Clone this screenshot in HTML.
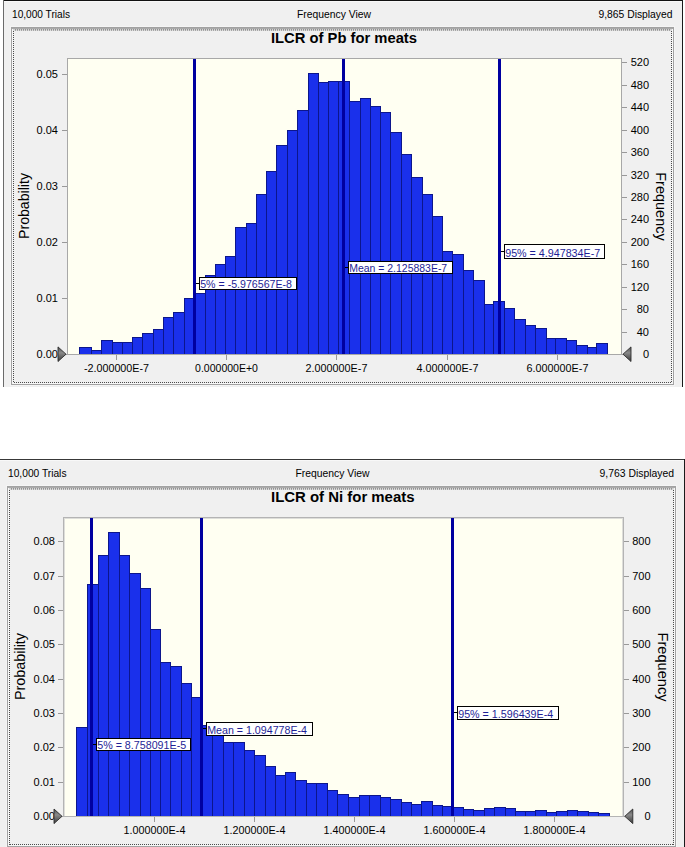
<!DOCTYPE html><html><head><meta charset="utf-8"><style>html,body{margin:0;padding:0;background:#fff;}svg{display:block;}text{font-family:"Liberation Sans",sans-serif;}</style></head><body>
<svg width="685" height="847" viewBox="0 0 685 847" shape-rendering="crispEdges">
<defs><linearGradient id="tg" x1="0" y1="0" x2="0" y2="1"><stop offset="0" stop-color="#505050"/><stop offset="0.4" stop-color="#8a8a8a"/><stop offset="1" stop-color="#383838"/></linearGradient></defs>
<rect x="0" y="0" width="685" height="847" fill="#fff"/>
<rect x="3" y="0" width="680" height="387" fill="#f0f0f0"/>
<rect x="3" y="0" width="680" height="1" fill="#111"/>
<rect x="3" y="1" width="679" height="1" fill="#f8f8f8"/>
<rect x="3" y="0" width="1" height="387" fill="#6a6a6a"/>
<rect x="682" y="0" width="1" height="387" fill="#1a1a1a"/>
<rect x="10" y="26" width="665" height="360" fill="#f5f5f5"/>
<rect x="11" y="27" width="663" height="358" fill="#a2a2a2"/>
<rect x="12" y="28" width="661" height="356" fill="#f8f8f8"/>
<rect x="13" y="29" width="659" height="354" fill="#f0f0f0"/>
<rect x="12" y="28" width="661" height="1" fill="#aaaaaa"/>
<rect x="13" y="29" width="659" height="1" fill="#d2d2d2"/>
<rect x="13" y="30" width="659" height="1" fill="#dedede"/>
<line x1="15" y1="29.5" x2="671" y2="29.5" stroke="#929292" stroke-width="1" stroke-dasharray="1 1"/>
<line x1="15" y1="30.5" x2="671" y2="30.5" stroke="#a6a6a6" stroke-width="1" stroke-dasharray="1 1"/>
<line x1="14" y1="382.5" x2="671" y2="382.5" stroke="#4a4a4a" stroke-width="1" stroke-dasharray="1 1"/>
<line x1="13.5" y1="31" x2="13.5" y2="383" stroke="#4a4a4a" stroke-width="1" stroke-dasharray="1 1"/>
<line x1="671.5" y1="31" x2="671.5" y2="383" stroke="#4a4a4a" stroke-width="1" stroke-dasharray="1 1"/>
<text x="12" y="18.2" font-size="11" textLength="58" lengthAdjust="spacingAndGlyphs" fill="#000">10,000 Trials</text>
<text x="297" y="18.2" font-size="11" textLength="74" lengthAdjust="spacingAndGlyphs" fill="#000">Frequency View</text>
<text x="598.5" y="18.2" font-size="11" textLength="74" lengthAdjust="spacingAndGlyphs" fill="#000">9,865 Displayed</text>
<text x="271" y="43" font-size="14" font-weight="bold" textLength="146" lengthAdjust="spacingAndGlyphs" fill="#000">ILCR of Pb for meats</text>
<rect x="67" y="58" width="555" height="297" fill="#a8a8a8"/>
<rect x="68" y="59" width="553" height="295" fill="#fffff2"/>
<rect x="79" y="347" width="13" height="7" fill="#0c168c"/>
<rect x="80" y="348" width="11" height="6" fill="#1a30eb"/>
<rect x="91" y="350" width="11" height="4" fill="#0c168c"/>
<rect x="92" y="351" width="9" height="3" fill="#1a30eb"/>
<rect x="101" y="340" width="12" height="14" fill="#0c168c"/>
<rect x="102" y="341" width="10" height="13" fill="#1a30eb"/>
<rect x="112" y="342" width="11" height="12" fill="#0c168c"/>
<rect x="113" y="343" width="9" height="11" fill="#1a30eb"/>
<rect x="122" y="342" width="11" height="12" fill="#0c168c"/>
<rect x="123" y="343" width="9" height="11" fill="#1a30eb"/>
<rect x="132" y="337" width="11" height="17" fill="#0c168c"/>
<rect x="133" y="338" width="9" height="16" fill="#1a30eb"/>
<rect x="142" y="333" width="12" height="21" fill="#0c168c"/>
<rect x="143" y="334" width="10" height="20" fill="#1a30eb"/>
<rect x="153" y="329" width="11" height="25" fill="#0c168c"/>
<rect x="154" y="330" width="9" height="24" fill="#1a30eb"/>
<rect x="163" y="317" width="11" height="37" fill="#0c168c"/>
<rect x="164" y="318" width="9" height="36" fill="#1a30eb"/>
<rect x="173" y="312" width="12" height="42" fill="#0c168c"/>
<rect x="174" y="313" width="10" height="41" fill="#1a30eb"/>
<rect x="184" y="298" width="11" height="56" fill="#0c168c"/>
<rect x="185" y="299" width="9" height="55" fill="#1a30eb"/>
<rect x="194" y="293" width="12" height="61" fill="#0c168c"/>
<rect x="195" y="294" width="10" height="60" fill="#1a30eb"/>
<rect x="205" y="275" width="11" height="79" fill="#0c168c"/>
<rect x="206" y="276" width="9" height="78" fill="#1a30eb"/>
<rect x="215" y="264" width="11" height="90" fill="#0c168c"/>
<rect x="216" y="265" width="9" height="89" fill="#1a30eb"/>
<rect x="225" y="256" width="11" height="98" fill="#0c168c"/>
<rect x="226" y="257" width="9" height="97" fill="#1a30eb"/>
<rect x="235" y="227" width="12" height="127" fill="#0c168c"/>
<rect x="236" y="228" width="10" height="126" fill="#1a30eb"/>
<rect x="246" y="223" width="11" height="131" fill="#0c168c"/>
<rect x="247" y="224" width="9" height="130" fill="#1a30eb"/>
<rect x="256" y="194" width="11" height="160" fill="#0c168c"/>
<rect x="257" y="195" width="9" height="159" fill="#1a30eb"/>
<rect x="266" y="171" width="11" height="183" fill="#0c168c"/>
<rect x="267" y="172" width="9" height="182" fill="#1a30eb"/>
<rect x="276" y="145" width="12" height="209" fill="#0c168c"/>
<rect x="277" y="146" width="10" height="208" fill="#1a30eb"/>
<rect x="287" y="130" width="11" height="224" fill="#0c168c"/>
<rect x="288" y="131" width="9" height="223" fill="#1a30eb"/>
<rect x="297" y="110" width="12" height="244" fill="#0c168c"/>
<rect x="298" y="111" width="10" height="243" fill="#1a30eb"/>
<rect x="308" y="73" width="11" height="281" fill="#0c168c"/>
<rect x="309" y="74" width="9" height="280" fill="#1a30eb"/>
<rect x="318" y="82" width="11" height="272" fill="#0c168c"/>
<rect x="319" y="83" width="9" height="271" fill="#1a30eb"/>
<rect x="328" y="81" width="11" height="273" fill="#0c168c"/>
<rect x="329" y="82" width="9" height="272" fill="#1a30eb"/>
<rect x="338" y="81" width="12" height="273" fill="#0c168c"/>
<rect x="339" y="82" width="10" height="272" fill="#1a30eb"/>
<rect x="349" y="101" width="12" height="253" fill="#0c168c"/>
<rect x="350" y="102" width="10" height="252" fill="#1a30eb"/>
<rect x="360" y="98" width="11" height="256" fill="#0c168c"/>
<rect x="361" y="99" width="9" height="255" fill="#1a30eb"/>
<rect x="370" y="106" width="11" height="248" fill="#0c168c"/>
<rect x="371" y="107" width="9" height="247" fill="#1a30eb"/>
<rect x="380" y="112" width="11" height="242" fill="#0c168c"/>
<rect x="381" y="113" width="9" height="241" fill="#1a30eb"/>
<rect x="390" y="132" width="12" height="222" fill="#0c168c"/>
<rect x="391" y="133" width="10" height="221" fill="#1a30eb"/>
<rect x="401" y="154" width="11" height="200" fill="#0c168c"/>
<rect x="402" y="155" width="9" height="199" fill="#1a30eb"/>
<rect x="411" y="177" width="12" height="177" fill="#0c168c"/>
<rect x="412" y="178" width="10" height="176" fill="#1a30eb"/>
<rect x="422" y="194" width="11" height="160" fill="#0c168c"/>
<rect x="423" y="195" width="9" height="159" fill="#1a30eb"/>
<rect x="432" y="216" width="11" height="138" fill="#0c168c"/>
<rect x="433" y="217" width="9" height="137" fill="#1a30eb"/>
<rect x="442" y="251" width="11" height="103" fill="#0c168c"/>
<rect x="443" y="252" width="9" height="102" fill="#1a30eb"/>
<rect x="452" y="254" width="12" height="100" fill="#0c168c"/>
<rect x="453" y="255" width="10" height="99" fill="#1a30eb"/>
<rect x="463" y="270" width="11" height="84" fill="#0c168c"/>
<rect x="464" y="271" width="9" height="83" fill="#1a30eb"/>
<rect x="473" y="280" width="12" height="74" fill="#0c168c"/>
<rect x="474" y="281" width="10" height="73" fill="#1a30eb"/>
<rect x="484" y="304" width="10" height="50" fill="#0c168c"/>
<rect x="485" y="305" width="8" height="49" fill="#1a30eb"/>
<rect x="493" y="301" width="12" height="53" fill="#0c168c"/>
<rect x="494" y="302" width="10" height="52" fill="#1a30eb"/>
<rect x="504" y="308" width="11" height="46" fill="#0c168c"/>
<rect x="505" y="309" width="9" height="45" fill="#1a30eb"/>
<rect x="514" y="319" width="12" height="35" fill="#0c168c"/>
<rect x="515" y="320" width="10" height="34" fill="#1a30eb"/>
<rect x="525" y="325" width="11" height="29" fill="#0c168c"/>
<rect x="526" y="326" width="9" height="28" fill="#1a30eb"/>
<rect x="535" y="328" width="12" height="26" fill="#0c168c"/>
<rect x="536" y="329" width="10" height="25" fill="#1a30eb"/>
<rect x="546" y="338" width="10" height="16" fill="#0c168c"/>
<rect x="547" y="339" width="8" height="15" fill="#1a30eb"/>
<rect x="555" y="338" width="12" height="16" fill="#0c168c"/>
<rect x="556" y="339" width="10" height="15" fill="#1a30eb"/>
<rect x="566" y="340" width="11" height="14" fill="#0c168c"/>
<rect x="567" y="341" width="9" height="13" fill="#1a30eb"/>
<rect x="576" y="345" width="12" height="9" fill="#0c168c"/>
<rect x="577" y="346" width="10" height="8" fill="#1a30eb"/>
<rect x="587" y="347" width="10" height="7" fill="#0c168c"/>
<rect x="588" y="348" width="8" height="6" fill="#1a30eb"/>
<rect x="596" y="343" width="12" height="11" fill="#0c168c"/>
<rect x="597" y="344" width="10" height="10" fill="#1a30eb"/>
<rect x="193" y="59" width="3" height="295" fill="#0000a0"/>
<rect x="342" y="59" width="3" height="295" fill="#0000a0"/>
<rect x="498" y="59" width="3" height="295" fill="#0000a0"/>
<rect x="196" y="283" width="3" height="1" fill="#000"/>
<rect x="199" y="277" width="98" height="13" fill="#000"/>
<rect x="200" y="278" width="96" height="11" fill="#fff"/>
<text x="200.2" y="287.5" font-size="11" textLength="91.8" lengthAdjust="spacingAndGlyphs" fill="#1e1e96">5% = -5.976567E-8</text>
<rect x="345" y="267" width="3" height="1" fill="#000"/>
<rect x="348" y="261" width="105" height="13" fill="#000"/>
<rect x="349" y="262" width="103" height="11" fill="#fff"/>
<text x="349.2" y="271.5" font-size="11" textLength="98" lengthAdjust="spacingAndGlyphs" fill="#1e1e96">Mean = 2.125883E-7</text>
<rect x="501" y="251" width="3" height="1" fill="#000"/>
<rect x="504" y="244" width="101" height="15" fill="#000"/>
<rect x="505" y="245" width="99" height="13" fill="#fff"/>
<text x="505.2" y="256.5" font-size="11" textLength="95" lengthAdjust="spacingAndGlyphs" fill="#1e1e96">95% = 4.947834E-7</text>
<rect x="62" y="354" width="5" height="1" fill="#999"/>
<text x="58" y="358" font-size="11" text-anchor="end" fill="#000">0.00</text>
<rect x="62" y="298" width="5" height="1" fill="#999"/>
<text x="58" y="302" font-size="11" text-anchor="end" fill="#000">0.01</text>
<rect x="62" y="242" width="5" height="1" fill="#999"/>
<text x="58" y="246" font-size="11" text-anchor="end" fill="#000">0.02</text>
<rect x="62" y="186" width="5" height="1" fill="#999"/>
<text x="58" y="190" font-size="11" text-anchor="end" fill="#000">0.03</text>
<rect x="62" y="130" width="5" height="1" fill="#999"/>
<text x="58" y="134" font-size="11" text-anchor="end" fill="#000">0.04</text>
<rect x="62" y="74" width="5" height="1" fill="#999"/>
<text x="58" y="78" font-size="11" text-anchor="end" fill="#000">0.05</text>
<rect x="622" y="354" width="5" height="1" fill="#999"/>
<text x="649" y="358" font-size="11" text-anchor="end" fill="#000">0</text>
<rect x="622" y="332" width="5" height="1" fill="#999"/>
<text x="649" y="336" font-size="11" text-anchor="end" fill="#000">40</text>
<rect x="622" y="309" width="5" height="1" fill="#999"/>
<text x="649" y="313" font-size="11" text-anchor="end" fill="#000">80</text>
<rect x="622" y="287" width="5" height="1" fill="#999"/>
<text x="649" y="291" font-size="11" text-anchor="end" fill="#000">120</text>
<rect x="622" y="264" width="5" height="1" fill="#999"/>
<text x="649" y="268" font-size="11" text-anchor="end" fill="#000">160</text>
<rect x="622" y="242" width="5" height="1" fill="#999"/>
<text x="649" y="246" font-size="11" text-anchor="end" fill="#000">200</text>
<rect x="622" y="219" width="5" height="1" fill="#999"/>
<text x="649" y="223" font-size="11" text-anchor="end" fill="#000">240</text>
<rect x="622" y="197" width="5" height="1" fill="#999"/>
<text x="649" y="201" font-size="11" text-anchor="end" fill="#000">280</text>
<rect x="622" y="175" width="5" height="1" fill="#999"/>
<text x="649" y="179" font-size="11" text-anchor="end" fill="#000">320</text>
<rect x="622" y="152" width="5" height="1" fill="#999"/>
<text x="649" y="156" font-size="11" text-anchor="end" fill="#000">360</text>
<rect x="622" y="130" width="5" height="1" fill="#999"/>
<text x="649" y="134" font-size="11" text-anchor="end" fill="#000">400</text>
<rect x="622" y="107" width="5" height="1" fill="#999"/>
<text x="649" y="111" font-size="11" text-anchor="end" fill="#000">440</text>
<rect x="622" y="85" width="5" height="1" fill="#999"/>
<text x="649" y="89" font-size="11" text-anchor="end" fill="#000">480</text>
<rect x="622" y="62" width="5" height="1" fill="#999"/>
<text x="649" y="66" font-size="11" text-anchor="end" fill="#000">520</text>
<rect x="116" y="355" width="1" height="5" fill="#999"/>
<text x="116.5" y="372" font-size="11" text-anchor="middle" textLength="65.2" lengthAdjust="spacingAndGlyphs" fill="#000">-2.000000E-7</text>
<rect x="226" y="355" width="1" height="5" fill="#999"/>
<text x="226.5" y="372" font-size="11" text-anchor="middle" textLength="62.8" lengthAdjust="spacingAndGlyphs" fill="#000">0.000000E+0</text>
<rect x="336" y="355" width="1" height="5" fill="#999"/>
<text x="336.5" y="372" font-size="11" text-anchor="middle" textLength="61.8" lengthAdjust="spacingAndGlyphs" fill="#000">2.000000E-7</text>
<rect x="447" y="355" width="1" height="5" fill="#999"/>
<text x="447.5" y="372" font-size="11" text-anchor="middle" textLength="61.8" lengthAdjust="spacingAndGlyphs" fill="#000">4.000000E-7</text>
<rect x="557" y="355" width="1" height="5" fill="#999"/>
<text x="557.5" y="372" font-size="11" text-anchor="middle" textLength="61.8" lengthAdjust="spacingAndGlyphs" fill="#000">6.000000E-7</text>
<text transform="translate(29,206) rotate(-90)" x="0" y="0" font-size="14" text-anchor="middle" textLength="66" lengthAdjust="spacingAndGlyphs" fill="#000">Probability</text>
<text transform="translate(656,206.5) rotate(90)" x="0" y="0" font-size="14" text-anchor="middle" textLength="68.5" lengthAdjust="spacingAndGlyphs" fill="#000">Frequency</text>
<polygon points="58,346.9 58,361.5 66,354.2" fill="url(#tg)" stroke="#2c2c2c" stroke-width="0.9" stroke-linejoin="round" shape-rendering="geometricPrecision"/>
<polygon points="631,346.9 631,361.5 623,354.2" fill="url(#tg)" stroke="#2c2c2c" stroke-width="0.9" stroke-linejoin="round" shape-rendering="geometricPrecision"/>
<rect x="-1" y="459" width="686" height="388" fill="#f0f0f0"/>
<rect x="-1" y="459" width="686" height="1" fill="#383838"/>
<rect x="-1" y="460" width="685" height="1" fill="#f8f8f8"/>
<rect x="684" y="459" width="1" height="388" fill="#1a1a1a"/>
<rect x="6" y="485" width="671" height="363" fill="#f5f5f5"/>
<rect x="7" y="486" width="669" height="361" fill="#a2a2a2"/>
<rect x="8" y="487" width="667" height="359" fill="#f8f8f8"/>
<rect x="9" y="488" width="665" height="357" fill="#f0f0f0"/>
<rect x="8" y="487" width="667" height="1" fill="#aaaaaa"/>
<rect x="9" y="488" width="665" height="1" fill="#d2d2d2"/>
<rect x="9" y="489" width="665" height="1" fill="#dedede"/>
<line x1="11" y1="488.5" x2="673" y2="488.5" stroke="#929292" stroke-width="1" stroke-dasharray="1 1"/>
<line x1="11" y1="489.5" x2="673" y2="489.5" stroke="#a6a6a6" stroke-width="1" stroke-dasharray="1 1"/>
<line x1="10" y1="844.5" x2="673" y2="844.5" stroke="#4a4a4a" stroke-width="1" stroke-dasharray="1 1"/>
<line x1="9.5" y1="490" x2="9.5" y2="845" stroke="#4a4a4a" stroke-width="1" stroke-dasharray="1 1"/>
<line x1="673.5" y1="490" x2="673.5" y2="845" stroke="#4a4a4a" stroke-width="1" stroke-dasharray="1 1"/>
<text x="8" y="477.2" font-size="11" textLength="58.5" lengthAdjust="spacingAndGlyphs" fill="#000">10,000 Trials</text>
<text x="295.5" y="477.2" font-size="11" textLength="74" lengthAdjust="spacingAndGlyphs" fill="#000">Frequency View</text>
<text x="599.5" y="477" font-size="11" textLength="74.5" lengthAdjust="spacingAndGlyphs" fill="#000">9,763 Displayed</text>
<text x="271" y="502" font-size="14" font-weight="bold" textLength="143.5" lengthAdjust="spacingAndGlyphs" fill="#000">ILCR of Ni for meats</text>
<rect x="63" y="517" width="561" height="300" fill="#b4b4b4"/>
<rect x="64" y="518" width="559" height="298" fill="#fffff2"/>
<rect x="64" y="518" width="1" height="298" fill="#dededa"/>
<rect x="64" y="518" width="559" height="1" fill="#dededa"/>
<rect x="622" y="518" width="1" height="298" fill="#dededa"/>
<rect x="76" y="727" width="12" height="89" fill="#0c168c"/>
<rect x="77" y="728" width="10" height="88" fill="#1a30eb"/>
<rect x="87" y="584" width="12" height="232" fill="#0c168c"/>
<rect x="88" y="585" width="10" height="231" fill="#1a30eb"/>
<rect x="98" y="555" width="11" height="261" fill="#0c168c"/>
<rect x="99" y="556" width="9" height="260" fill="#1a30eb"/>
<rect x="108" y="532" width="12" height="284" fill="#0c168c"/>
<rect x="109" y="533" width="10" height="283" fill="#1a30eb"/>
<rect x="119" y="555" width="11" height="261" fill="#0c168c"/>
<rect x="120" y="556" width="9" height="260" fill="#1a30eb"/>
<rect x="129" y="573" width="12" height="243" fill="#0c168c"/>
<rect x="130" y="574" width="10" height="242" fill="#1a30eb"/>
<rect x="140" y="588" width="11" height="228" fill="#0c168c"/>
<rect x="141" y="589" width="9" height="227" fill="#1a30eb"/>
<rect x="150" y="629" width="11" height="187" fill="#0c168c"/>
<rect x="151" y="630" width="9" height="186" fill="#1a30eb"/>
<rect x="160" y="662" width="11" height="154" fill="#0c168c"/>
<rect x="161" y="663" width="9" height="153" fill="#1a30eb"/>
<rect x="170" y="666" width="12" height="150" fill="#0c168c"/>
<rect x="171" y="667" width="10" height="149" fill="#1a30eb"/>
<rect x="181" y="683" width="11" height="133" fill="#0c168c"/>
<rect x="182" y="684" width="9" height="132" fill="#1a30eb"/>
<rect x="191" y="697" width="11" height="119" fill="#0c168c"/>
<rect x="192" y="698" width="9" height="118" fill="#1a30eb"/>
<rect x="201" y="725" width="12" height="91" fill="#0c168c"/>
<rect x="202" y="726" width="10" height="90" fill="#1a30eb"/>
<rect x="212" y="735" width="12" height="81" fill="#0c168c"/>
<rect x="213" y="736" width="10" height="80" fill="#1a30eb"/>
<rect x="223" y="742" width="11" height="74" fill="#0c168c"/>
<rect x="224" y="743" width="9" height="73" fill="#1a30eb"/>
<rect x="233" y="742" width="12" height="74" fill="#0c168c"/>
<rect x="234" y="743" width="10" height="73" fill="#1a30eb"/>
<rect x="244" y="750" width="11" height="66" fill="#0c168c"/>
<rect x="245" y="751" width="9" height="65" fill="#1a30eb"/>
<rect x="254" y="755" width="12" height="61" fill="#0c168c"/>
<rect x="255" y="756" width="10" height="60" fill="#1a30eb"/>
<rect x="265" y="766" width="11" height="50" fill="#0c168c"/>
<rect x="266" y="767" width="9" height="49" fill="#1a30eb"/>
<rect x="275" y="775" width="11" height="41" fill="#0c168c"/>
<rect x="276" y="776" width="9" height="40" fill="#1a30eb"/>
<rect x="285" y="772" width="11" height="44" fill="#0c168c"/>
<rect x="286" y="773" width="9" height="43" fill="#1a30eb"/>
<rect x="295" y="780" width="12" height="36" fill="#0c168c"/>
<rect x="296" y="781" width="10" height="35" fill="#1a30eb"/>
<rect x="306" y="783" width="11" height="33" fill="#0c168c"/>
<rect x="307" y="784" width="9" height="32" fill="#1a30eb"/>
<rect x="316" y="783" width="12" height="33" fill="#0c168c"/>
<rect x="317" y="784" width="10" height="32" fill="#1a30eb"/>
<rect x="327" y="790" width="11" height="26" fill="#0c168c"/>
<rect x="328" y="791" width="9" height="25" fill="#1a30eb"/>
<rect x="337" y="794" width="12" height="22" fill="#0c168c"/>
<rect x="338" y="795" width="10" height="21" fill="#1a30eb"/>
<rect x="348" y="797" width="12" height="19" fill="#0c168c"/>
<rect x="349" y="798" width="10" height="18" fill="#1a30eb"/>
<rect x="359" y="795" width="11" height="21" fill="#0c168c"/>
<rect x="360" y="796" width="9" height="20" fill="#1a30eb"/>
<rect x="369" y="795" width="12" height="21" fill="#0c168c"/>
<rect x="370" y="796" width="10" height="20" fill="#1a30eb"/>
<rect x="380" y="797" width="11" height="19" fill="#0c168c"/>
<rect x="381" y="798" width="9" height="18" fill="#1a30eb"/>
<rect x="390" y="799" width="12" height="17" fill="#0c168c"/>
<rect x="391" y="800" width="10" height="16" fill="#1a30eb"/>
<rect x="401" y="802" width="11" height="14" fill="#0c168c"/>
<rect x="402" y="803" width="9" height="13" fill="#1a30eb"/>
<rect x="411" y="804" width="11" height="12" fill="#0c168c"/>
<rect x="412" y="805" width="9" height="11" fill="#1a30eb"/>
<rect x="421" y="801" width="12" height="15" fill="#0c168c"/>
<rect x="422" y="802" width="10" height="14" fill="#1a30eb"/>
<rect x="432" y="805" width="11" height="11" fill="#0c168c"/>
<rect x="433" y="806" width="9" height="10" fill="#1a30eb"/>
<rect x="442" y="806" width="12" height="10" fill="#0c168c"/>
<rect x="443" y="807" width="10" height="9" fill="#1a30eb"/>
<rect x="453" y="807" width="11" height="9" fill="#0c168c"/>
<rect x="454" y="808" width="9" height="8" fill="#1a30eb"/>
<rect x="463" y="809" width="11" height="7" fill="#0c168c"/>
<rect x="464" y="810" width="9" height="6" fill="#1a30eb"/>
<rect x="473" y="810" width="12" height="6" fill="#0c168c"/>
<rect x="474" y="811" width="10" height="5" fill="#1a30eb"/>
<rect x="484" y="808" width="11" height="8" fill="#0c168c"/>
<rect x="485" y="809" width="9" height="7" fill="#1a30eb"/>
<rect x="494" y="807" width="12" height="9" fill="#0c168c"/>
<rect x="495" y="808" width="10" height="8" fill="#1a30eb"/>
<rect x="505" y="808" width="11" height="8" fill="#0c168c"/>
<rect x="506" y="809" width="9" height="7" fill="#1a30eb"/>
<rect x="515" y="811" width="11" height="5" fill="#0c168c"/>
<rect x="516" y="812" width="9" height="4" fill="#1a30eb"/>
<rect x="525" y="811" width="11" height="5" fill="#0c168c"/>
<rect x="526" y="812" width="9" height="4" fill="#1a30eb"/>
<rect x="535" y="810" width="12" height="6" fill="#0c168c"/>
<rect x="536" y="811" width="10" height="5" fill="#1a30eb"/>
<rect x="546" y="812" width="11" height="4" fill="#0c168c"/>
<rect x="547" y="813" width="9" height="3" fill="#1a30eb"/>
<rect x="556" y="811" width="12" height="5" fill="#0c168c"/>
<rect x="557" y="812" width="10" height="4" fill="#1a30eb"/>
<rect x="567" y="810" width="11" height="6" fill="#0c168c"/>
<rect x="568" y="811" width="9" height="5" fill="#1a30eb"/>
<rect x="577" y="811" width="12" height="5" fill="#0c168c"/>
<rect x="578" y="812" width="10" height="4" fill="#1a30eb"/>
<rect x="588" y="812" width="11" height="4" fill="#0c168c"/>
<rect x="589" y="813" width="9" height="3" fill="#1a30eb"/>
<rect x="598" y="813" width="12" height="3" fill="#0c168c"/>
<rect x="599" y="814" width="10" height="2" fill="#1a30eb"/>
<rect x="90" y="518" width="3" height="298" fill="#0000a0"/>
<rect x="200" y="518" width="3" height="298" fill="#0000a0"/>
<rect x="451" y="518" width="3" height="298" fill="#0000a0"/>
<rect x="93" y="744" width="3" height="1" fill="#000"/>
<rect x="96" y="738" width="95" height="13" fill="#000"/>
<rect x="97" y="739" width="93" height="11" fill="#fff"/>
<text x="97.2" y="748.5" font-size="11" textLength="89" lengthAdjust="spacingAndGlyphs" fill="#1e1e96">5% = 8.758091E-5</text>
<rect x="203" y="728" width="3" height="1" fill="#000"/>
<rect x="206" y="722" width="107" height="14" fill="#000"/>
<rect x="207" y="723" width="105" height="12" fill="#fff"/>
<text x="207.2" y="733.5" font-size="11" textLength="99.8" lengthAdjust="spacingAndGlyphs" fill="#1e1e96">Mean = 1.094778E-4</text>
<rect x="454" y="712" width="3" height="1" fill="#000"/>
<rect x="457" y="706" width="102" height="14" fill="#000"/>
<rect x="458" y="707" width="100" height="12" fill="#fff"/>
<text x="458.2" y="717.5" font-size="11" textLength="95" lengthAdjust="spacingAndGlyphs" fill="#1e1e96">95% = 1.596439E-4</text>
<rect x="58" y="816" width="5" height="1" fill="#999"/>
<text x="55" y="820" font-size="11" text-anchor="end" fill="#000">0.00</text>
<rect x="58" y="782" width="5" height="1" fill="#999"/>
<text x="55" y="786" font-size="11" text-anchor="end" fill="#000">0.01</text>
<rect x="58" y="747" width="5" height="1" fill="#999"/>
<text x="55" y="751" font-size="11" text-anchor="end" fill="#000">0.02</text>
<rect x="58" y="713" width="5" height="1" fill="#999"/>
<text x="55" y="717" font-size="11" text-anchor="end" fill="#000">0.03</text>
<rect x="58" y="679" width="5" height="1" fill="#999"/>
<text x="55" y="683" font-size="11" text-anchor="end" fill="#000">0.04</text>
<rect x="58" y="644" width="5" height="1" fill="#999"/>
<text x="55" y="648" font-size="11" text-anchor="end" fill="#000">0.05</text>
<rect x="58" y="610" width="5" height="1" fill="#999"/>
<text x="55" y="614" font-size="11" text-anchor="end" fill="#000">0.06</text>
<rect x="58" y="576" width="5" height="1" fill="#999"/>
<text x="55" y="580" font-size="11" text-anchor="end" fill="#000">0.07</text>
<rect x="58" y="541" width="5" height="1" fill="#999"/>
<text x="55" y="545" font-size="11" text-anchor="end" fill="#000">0.08</text>
<rect x="624" y="816" width="5" height="1" fill="#999"/>
<text x="650.5" y="820" font-size="11" text-anchor="end" fill="#000">0</text>
<rect x="624" y="782" width="5" height="1" fill="#999"/>
<text x="650.5" y="786" font-size="11" text-anchor="end" fill="#000">100</text>
<rect x="624" y="747" width="5" height="1" fill="#999"/>
<text x="650.5" y="751" font-size="11" text-anchor="end" fill="#000">200</text>
<rect x="624" y="713" width="5" height="1" fill="#999"/>
<text x="650.5" y="717" font-size="11" text-anchor="end" fill="#000">300</text>
<rect x="624" y="679" width="5" height="1" fill="#999"/>
<text x="650.5" y="683" font-size="11" text-anchor="end" fill="#000">400</text>
<rect x="624" y="644" width="5" height="1" fill="#999"/>
<text x="650.5" y="648" font-size="11" text-anchor="end" fill="#000">500</text>
<rect x="624" y="610" width="5" height="1" fill="#999"/>
<text x="650.5" y="614" font-size="11" text-anchor="end" fill="#000">600</text>
<rect x="624" y="576" width="5" height="1" fill="#999"/>
<text x="650.5" y="580" font-size="11" text-anchor="end" fill="#000">700</text>
<rect x="624" y="541" width="5" height="1" fill="#999"/>
<text x="650.5" y="545" font-size="11" text-anchor="end" fill="#000">800</text>
<rect x="154" y="817" width="1" height="5" fill="#999"/>
<text x="154.5" y="834" font-size="11" text-anchor="middle" textLength="61.8" lengthAdjust="spacingAndGlyphs" fill="#000">1.000000E-4</text>
<rect x="254" y="817" width="1" height="5" fill="#999"/>
<text x="254.5" y="834" font-size="11" text-anchor="middle" textLength="61.8" lengthAdjust="spacingAndGlyphs" fill="#000">1.200000E-4</text>
<rect x="354" y="817" width="1" height="5" fill="#999"/>
<text x="354.5" y="834" font-size="11" text-anchor="middle" textLength="61.8" lengthAdjust="spacingAndGlyphs" fill="#000">1.400000E-4</text>
<rect x="454" y="817" width="1" height="5" fill="#999"/>
<text x="454.5" y="834" font-size="11" text-anchor="middle" textLength="61.8" lengthAdjust="spacingAndGlyphs" fill="#000">1.600000E-4</text>
<rect x="554" y="817" width="1" height="5" fill="#999"/>
<text x="554.5" y="834" font-size="11" text-anchor="middle" textLength="61.8" lengthAdjust="spacingAndGlyphs" fill="#000">1.800000E-4</text>
<text transform="translate(24.5,666.5) rotate(-90)" x="0" y="0" font-size="14" text-anchor="middle" textLength="67" lengthAdjust="spacingAndGlyphs" fill="#000">Probability</text>
<text transform="translate(658,667) rotate(90)" x="0" y="0" font-size="14" text-anchor="middle" textLength="69" lengthAdjust="spacingAndGlyphs" fill="#000">Frequency</text>
<polygon points="54,809.0 54,823.5999999999999 62,816.3" fill="url(#tg)" stroke="#2c2c2c" stroke-width="0.9" stroke-linejoin="round" shape-rendering="geometricPrecision"/>
<polygon points="632.8,809.0 632.8,823.5999999999999 624.8,816.3" fill="url(#tg)" stroke="#2c2c2c" stroke-width="0.9" stroke-linejoin="round" shape-rendering="geometricPrecision"/>
</svg></body></html>
